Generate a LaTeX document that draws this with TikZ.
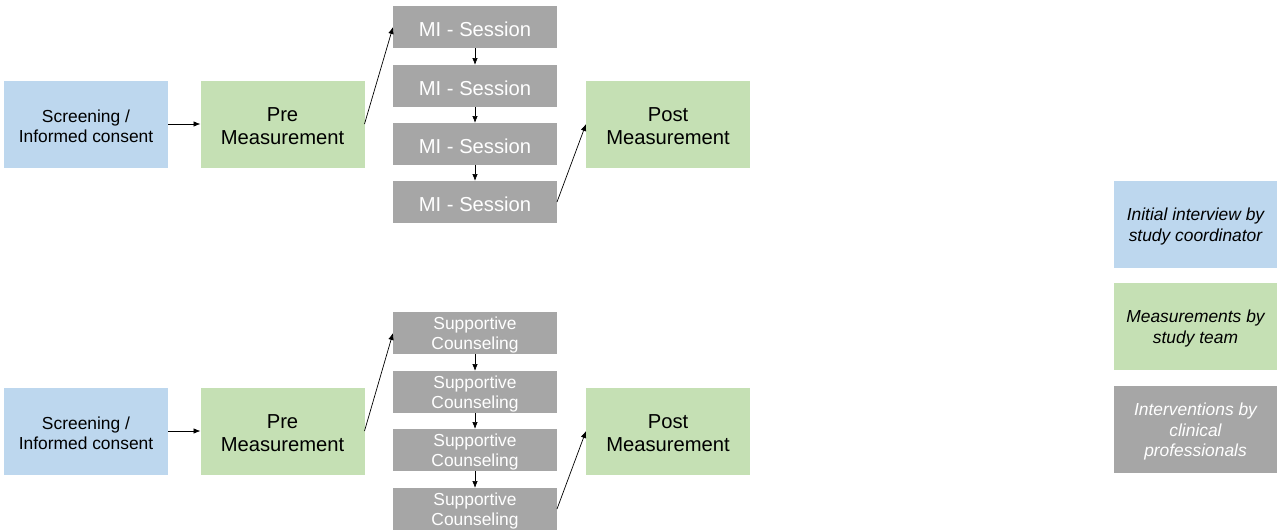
\documentclass[tikz,border=0pt]{standalone}
\usepackage{fontspec}
\setmainfont{Liberation Sans}
\usetikzlibrary{arrows.meta}
\definecolor{bxblue}{HTML}{BDD7EE}
\definecolor{bxgreen}{HTML}{C5E0B4}
\definecolor{bxgray}{HTML}{A6A6A6}
\begin{document}
\begin{tikzpicture}[x=1pt,y=-1pt,
  box/.style={minimum width=164pt, inner sep=0pt, outer sep=0pt},
  bigbox/.style={box, minimum height=87pt, fill=#1},
  smallbox/.style={box, minimum height=42pt, fill=bxgray},
  txt/.style={inner sep=0pt, align=center, yshift=-2pt},
  small/.style={txt, font=\fontsize{17.4}{20}\selectfont},
  large/.style={txt, font=\fontsize{20.2}{23.3}\selectfont},
  legt/.style={txt, font=\fontsize{17.4}{20.5}\selectfont\itshape},
  arr/.style={-{Latex[length=7pt,width=5.5pt]}, line width=0.7pt, black}
]
\useasboundingbox (0,0) rectangle (1277,530);
% top row
\node[bigbox=bxblue, label={[small]center:{Screening /\\Informed consent}}] (s1) at (86,124) {};
\node[bigbox=bxgreen, label={[large]center:{Pre\\Measurement}}] (p1) at (282.5,124) {};
\node[smallbox, label={[large,text=white]center:{MI - Session}}] (m1) at (475,27) {};
\node[smallbox, label={[large,text=white]center:{MI - Session}}] (m2) at (475,86) {};
\node[smallbox, label={[large,text=white]center:{MI - Session}}] (m3) at (475,144) {};
\node[smallbox, label={[large,text=white]center:{MI - Session}}] (m4) at (475,202) {};
\node[bigbox=bxgreen, label={[large]center:{Post\\Measurement}}] (q1) at (668,124) {};
\draw[arr] (s1.east) -- (p1.west);
\draw[arr] (p1.east) -- (m1.west);
\draw[arr] (m1.south) -- (m2.north);
\draw[arr] (m2.south) -- (m3.north);
\draw[arr] (m3.south) -- (m4.north);
\draw[arr] (m4.east) -- (q1.west);
% bottom row
\node[bigbox=bxblue, label={[small]center:{Screening /\\Informed consent}}] (s2) at (86,431) {};
\node[bigbox=bxgreen, label={[large]center:{Pre\\Measurement}}] (p2) at (282.5,431) {};
\node[smallbox, label={[small,text=white]center:{Supportive\\Counseling}}] (c1) at (475,333) {};
\node[smallbox, label={[small,text=white]center:{Supportive\\Counseling}}] (c2) at (475,392) {};
\node[smallbox, label={[small,text=white]center:{Supportive\\Counseling}}] (c3) at (475,450) {};
\node[smallbox, label={[small,text=white]center:{Supportive\\Counseling}}] (c4) at (475,509) {};
\node[bigbox=bxgreen, label={[large]center:{Post\\Measurement}}] (q2) at (668,431) {};
\draw[arr] (s2.east) -- (p2.west);
\draw[arr] (p2.east) -- (c1.west);
\draw[arr] (c1.south) -- (c2.north);
\draw[arr] (c2.south) -- (c3.north);
\draw[arr] (c3.south) -- (c4.north);
\draw[arr] (c4.east) -- (q2.west);
% legend
\node[bigbox=bxblue, label={[legt]center:{Initial interview by\\study coordinator}}] (l1) at (1195.5,224.5) {};
\node[bigbox=bxgreen, label={[legt]center:{Measurements by\\study team}}] (l2) at (1195.5,326.5) {};
\node[bigbox=bxgray, label={[legt,text=white]center:{Interventions by\\clinical\\professionals}}] (l3) at (1195.5,429.5) {};
\end{tikzpicture}
\end{document}
